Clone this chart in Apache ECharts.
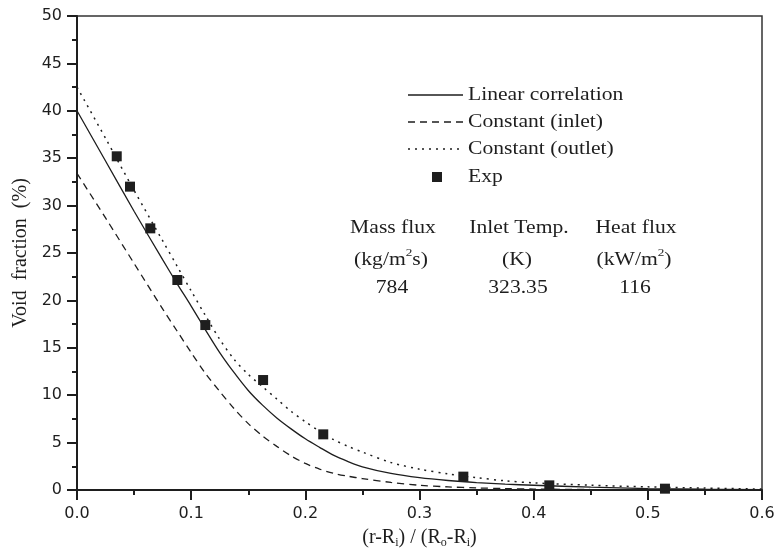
<!DOCTYPE html>
<html><head><meta charset="utf-8">
<script src="https://cdn.jsdelivr.net/npm/echarts@6/dist/echarts.min.js"></script>
<style>html,body{margin:0;padding:0;background:#fff}#c{width:780px;height:551px}</style>
</head><body><div id="c"></div>
<script>
// Data
const xs =          [0,    0.025, 0.05, 0.075, 0.0875, 0.1,  0.1125, 0.125, 0.1375, 0.15, 0.1625, 0.175, 0.1875, 0.2, 0.2125, 0.225, 0.2375, 0.25, 0.275, 0.3,  0.325, 0.35, 0.375, 0.4,  0.45, 0.5,  0.55, 0.6];
const linearCorr =  [40,   34.7,  29.4, 24.3,  21.8,   19.4, 16.9,   14.5,  12.4,   10.5, 8.95,   7.6,   6.45,   5.4, 4.5,    3.65,  3.0,    2.45, 1.75,  1.3,  1.0,   0.78, 0.62,  0.5,  0.3,  0.15, 0.08, 0.04];
const constInlet =  [33.4, 28.7,  23.9, 19.1,  16.8,   14.5, 12.3,   10.4,  8.6,    7.0,  5.7,    4.6,   3.6,    2.8, 2.2,    1.75,  1.45,   1.2,  0.8,   0.5,  0.33,  0.22, 0.15,  0.1,  0.05, 0.02, 0.01, 0];
const constOutlet = [42.5, 37.1,  31.6, 26.3,  23.65,  21.0, 18.4,   15.9,  13.8,   12.2, 10.9,   9.6,   8.3,    7.2, 6.2,    5.3,   4.6,    4.0,  2.9,   2.2,  1.7,   1.3,  0.97,  0.75, 0.5,  0.33, 0.2,  0.1];
const expX = [0.0348, 0.0464, 0.0642, 0.0879, 0.1124, 0.163, 0.2157, 0.3384, 0.4137, 0.515];
const expY = [35.2, 32.0, 27.6, 22.15, 17.4, 11.6, 5.87, 1.41, 0.49, 0.14];
const xTicks = [0, 0.1, 0.2, 0.3, 0.4, 0.5, 0.6];
const yTicks = [0, 5, 10, 15, 20, 25, 30, 35, 40, 45, 50];
const legendNames = ['Linear correlation', 'Constant (inlet)', 'Constant (outlet)', 'Exp'];
const infoHeads = ['Mass flux', 'Inlet Temp.', 'Heat flux'];
const infoUnits = ['(kg/m{sup|2}s)', '(K)', '(kW/m{sup|2})'];
const infoValues = ['784', '323.35', '116'];

const pair = (a, b) => a.map((v, i) => [v, b[i]]);
const serif = 'Liberation Serif, Times New Roman, serif';
const sans = 'DejaVu Sans, Arial, sans-serif';
const ink = '#1e1e1e';
const sx = 1.2; // horizontal stretch of serif text seen in the reference

const chart = echarts.init(document.getElementById('c'), null, {renderer: 'canvas'});

const graphics = [];
// legend
const legX1 = 408, legX2 = 463, legTextX = 468, legY0 = 95, legDy = 27;
const legTypes = ['solid', [7, 5], [2, 5]];
for (let i = 0; i < 3; i++) {
  graphics.push({type: 'line', shape: {x1: legX1, y1: legY0 + i * legDy, x2: legX2, y2: legY0 + i * legDy},
    style: {stroke: ink, lineWidth: 1.3, lineDash: legTypes[i] === 'solid' ? null : legTypes[i]}});
}
graphics.push({type: 'rect', shape: {x: 432, y: legY0 + 3 * legDy - 5 + 1, width: 10, height: 10}, style: {fill: ink}});
legendNames.forEach((n, i) => {
  graphics.push({type: 'text', x: legTextX, y: legY0 + i * legDy + (i === 3 ? 1 : 0), scaleX: sx,
    style: {text: n, font: '18px ' + serif, fill: ink, verticalAlign: 'middle'}});
});
// info block
const infoX = [393, 519, 636];
const infoY = [228, 260, 288];
for (let i = 0; i < 3; i++) {
  graphics.push({type: 'text', x: infoX[i], y: infoY[0], scaleX: sx, style: {text: infoHeads[i], font: '18px ' + serif, fill: ink, align: 'center', verticalAlign: 'middle'}});
  graphics.push({type: 'text', x: infoX[i] - 2, y: infoY[1], scaleX: sx, style: {text: infoUnits[i], fontFamily: serif, fontSize: 18, fill: ink, align: 'center', verticalAlign: 'middle',
    rich: {sup: {fontSize: 11, fontFamily: serif, verticalAlign: 'top', lineHeight: 24}}}});
  graphics.push({type: 'text', x: infoX[i] - 1, y: infoY[2], scaleX: sx, style: {text: infoValues[i], font: '18px ' + serif, fill: ink, align: 'center', verticalAlign: 'middle'}});
}

const axisCommon = {
  axisLine: {show: true, lineStyle: {color: ink, width: 2}},
  axisTick: {show: true, inside: false, length: 10, lineStyle: {color: ink, width: 2}},
  minorTick: {show: true, splitNumber: 2, length: 5, lineStyle: {color: ink, width: 2}},
  splitLine: {show: false}
};

const option = {
  backgroundColor: '#fff',
  animation: false,
  grid: {left: 77, top: 16, right: 18, bottom: 61, show: true, borderColor: '#333', borderWidth: 1.5,
    containLabel: false, outerBoundsMode: 'none'},
  xAxis: Object.assign({
    type: 'value', min: xTicks[0], max: xTicks[xTicks.length - 1], interval: 0.1,
    name: '(r-R{sub|i}) / (R{sub|o}-R{sub|i})', nameLocation: 'middle', nameGap: 36,
    nameTextStyle: {fontFamily: serif, fontSize: 20, color: ink, lineHeight: 22,
      rich: {sub: {fontSize: 12, fontFamily: serif, verticalAlign: 'bottom', lineHeight: 12}}},
    axisLabel: {fontFamily: sans, fontSize: 16, color: ink, margin: 16, formatter: v => v.toFixed(1)}
  }, axisCommon),
  yAxis: Object.assign({
    type: 'value', min: yTicks[0], max: yTicks[yTicks.length - 1], interval: 5,
    name: 'Void  fraction  (%)', nameLocation: 'middle', nameGap: 44, nameRotate: 90,
    nameTextStyle: {fontFamily: serif, fontSize: 20, color: ink},
    axisLabel: {fontFamily: sans, fontSize: 16, color: ink, margin: 15}
  }, axisCommon),
  series: [
    {name: legendNames[0], type: 'line', data: pair(xs, linearCorr), smooth: 0.3, symbol: 'none', lineStyle: {color: ink, width: 1.3, type: 'solid'}, z: 3},
    {name: legendNames[1], type: 'line', data: pair(xs, constInlet), smooth: 0.3, symbol: 'none', lineStyle: {color: ink, width: 1.3, type: [7, 5]}, z: 3},
    {name: legendNames[2], type: 'line', data: pair(xs, constOutlet), smooth: 0.3, symbol: 'none', lineStyle: {color: ink, width: 1.5, type: [2, 5]}, z: 3},
    {name: legendNames[3], type: 'scatter', data: pair(expX, expY), symbol: 'rect', symbolSize: 10, itemStyle: {color: ink, opacity: 1}, z: 4}
  ],
  graphic: graphics
};
chart.setOption(option);
</script></body></html>
